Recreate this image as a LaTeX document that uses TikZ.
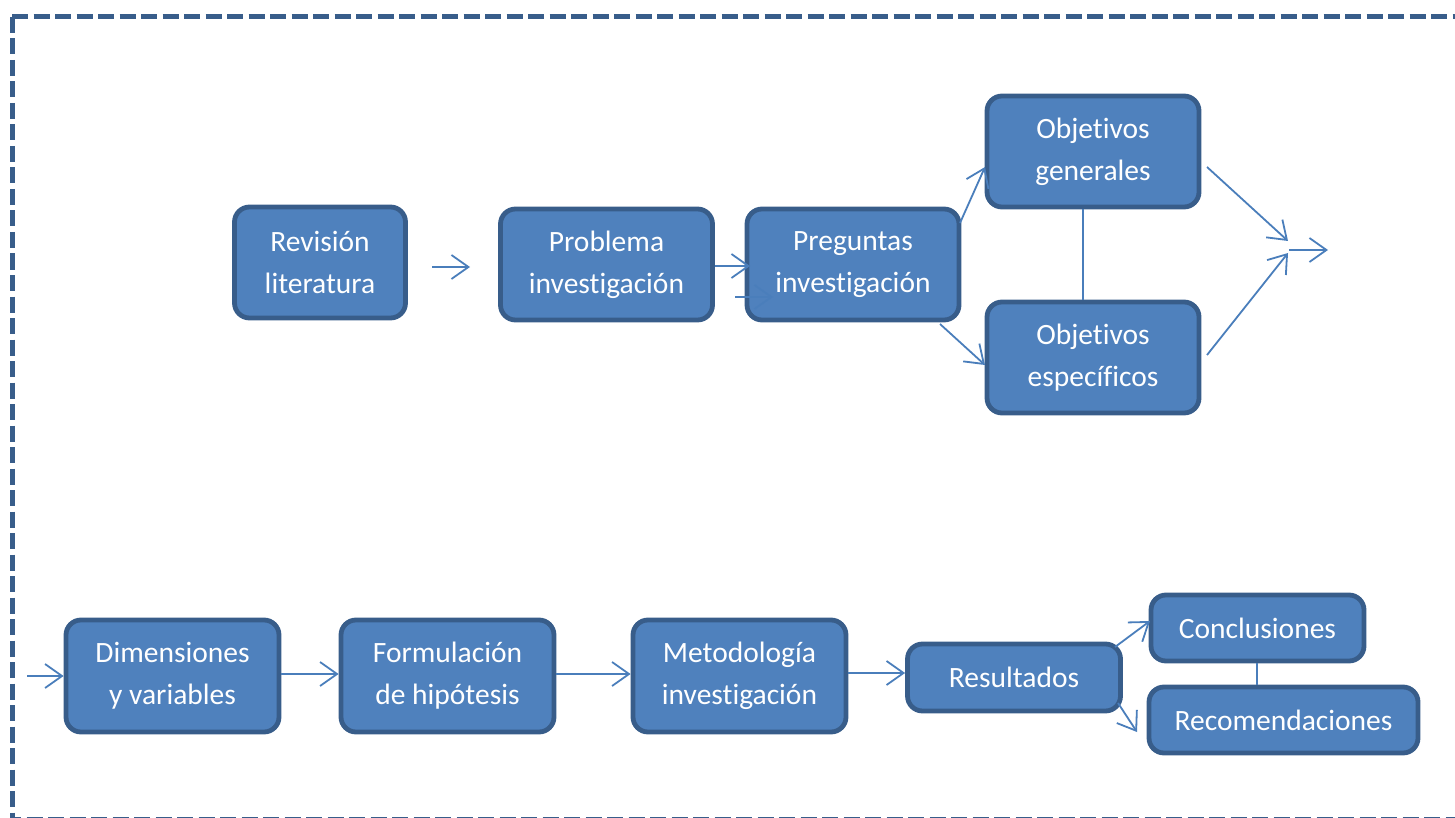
\documentclass[tikz,border=0pt]{standalone}
\usepackage{fontspec}
\setmainfont[Ligatures={NoCommon}]{Carlito}
\usetikzlibrary{arrows.meta}
\definecolor{boxfill}{HTML}{4F81BD}
\definecolor{boxline}{HTML}{385D8A}
\definecolor{arrowcol}{HTML}{4A7EBB}
\tikzset{
  box/.style={draw=boxline, fill=boxfill, line width=4.8pt, rounded corners=15pt,
    text=white, align=center, inner sep=0pt,
    font=\fontsize{29.5}{42}\selectfont},
  conn/.style={draw=arrowcol, line width=1.8pt,
    -{Straight Barb[length=17pt,width=24pt,line width=1.8pt]}},
  plain/.style={draw=arrowcol, line width=1.8pt},
  frame/.style={draw=boxline, line width=5pt, dash pattern=on 16pt off 5.5pt}
}
\begin{document}
\begin{tikzpicture}[x=1pt,y=-1pt]
\useasboundingbox (0,0) rectangle (1455,818);
\clip (0,0) rectangle (1455,818);
\draw[frame] (12,17) -- (1480,17);
\draw[frame] (12,17) -- (12,819.5) -- (1480,819.5);

% top row
\node[box, minimum width=171pt, minimum height=111pt] (rev) at (320,262.5) {Revisión\\literatura};
\node[box, minimum width=212pt, minimum height=111pt] (prob) at (606.5,264.5) {Problema\\investigación};
\node[box, minimum width=212pt, minimum height=111pt] (preg) at (853,264.5) {Preguntas\\investigación};
\node[box, minimum width=212pt, minimum height=111pt] (og) at (1093,151.5) {Objetivos\\generales};
\node[box, minimum width=212pt, minimum height=111pt] (oe) at (1093,357.5) {Objetivos\\específicos};

% bottom row
\node[box, minimum width=213pt, minimum height=112pt] (dim) at (172.5,676) {Dimensiones\\y variables};
\node[box, minimum width=213pt, minimum height=112pt] (form) at (447.5,676) {Formulación\\de hipótesis};
\node[box, minimum width=213pt, minimum height=112pt] (met) at (739.5,676) {Metodología\\investigación};
\node[box, minimum width=213pt, minimum height=67pt] (res) at (1014,677.5) {Resultados};
\node[box, minimum width=213pt, minimum height=66pt] (conc) at (1257.5,628) {Conclusiones};
\node[box, minimum width=269pt, minimum height=66pt] (rec) at (1283.5,720) {Recomendaciones};

% free coordinates
\coordinate (a1s) at (432,267);
\coordinate (a1e) at (470,267);
\coordinate (merge1) at (1288,241);
\coordinate (merge2) at (1288,253);
\coordinate (outs) at (1289,250);
\coordinate (oute) at (1328,250);
\coordinate (ins) at (27,676);

% top connectors
\draw[conn] (a1s) -- (a1e);
\draw[conn] (prob.east |- 0,266) -- (750,266);
\draw[conn] (735,297) -- (773,297);
\draw[conn] (960,223) -- (985,167);
\draw[conn] (940,324) -- (985,365);
\draw[plain] (og.south -| 1083,0) -- (oe.north -| 1083,0);
\draw[conn] (1207,167) -- (merge1);
\draw[conn] (1207,355) -- (merge2);
\draw[conn] (outs) -- (oute);

% bottom connectors
\draw[conn] (ins) -- (dim.west);
\draw[conn] (dim.east |- 0,674) -- (form.west |- 0,674);
\draw[conn] (form.east |- 0,674) -- (met.west |- 0,674);
\draw[conn] (met.east |- 0,673) -- (res.west |- 0,673);
\draw[conn] (1115,647) -- (1150,621);
\draw[conn] (1118,703) -- (1137,732);
\draw[plain] (conc.south -| 1257,0) -- (rec.north -| 1257,0);
\end{tikzpicture}
\end{document}
